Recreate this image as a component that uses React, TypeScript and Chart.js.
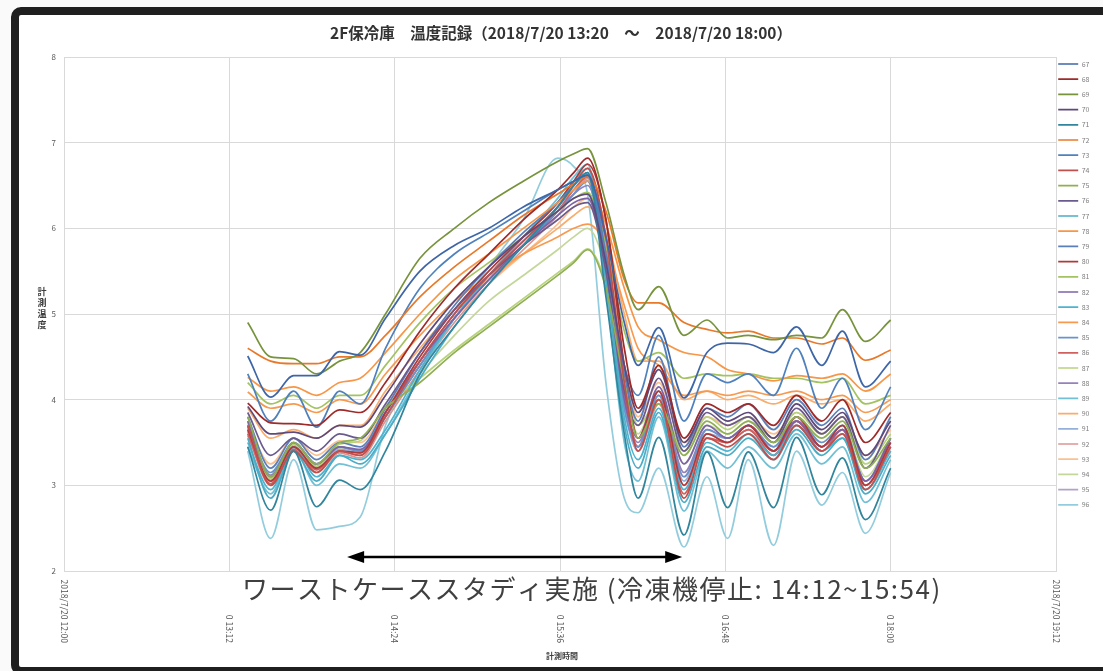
import React, { useEffect, useRef } from 'react';
import { Chart, registerables } from 'chart.js';

Chart.register(...registerables);

// ---------- text ----------
const TITLE = '2F保冷庫　温度記録（2018/7/20 13:20　～　2018/7/20 18:00）';
const Y_TITLE_CHARS = ['計', '測', '温', '度'];
const X_TITLE = '計測時間';
const NOTE_TEXT = 'ワーストケーススタディ実施 (冷凍機停止: 14:12~15:54)';

// ---------- axes (x in minutes since 12:00) ----------
const X_MIN = 0;
const X_MAX = 432;
const X_STEP = 72;
const X_TICK_LABELS = ['2018/7/20 12:00', '0 13:12', '0 14:24', '0 15:36', '0 16:48', '0 18:00', '2018/7/20 19:12'];
const Y_MIN = 2;
const Y_MAX = 8;

// annotation (data units)
const ARROW_FROM = 123.3;
const ARROW_TO = 269.2;
const ARROW_LEVEL = 2.163;
const NOTE_X = 77.5;
const NOTE_LEVEL = 1.79;

// ---------- data ----------
const TIMES = [80, 90, 100, 110, 120, 129, 140, 155, 170, 185, 200, 215, 222, 228, 236, 244, 250, 259, 270, 280, 289, 298, 309, 319, 330, 339, 349, 360];

const S67 = [4.51, 4.03, 4.28, 4.28, 4.56, 4.52, 4.95, 5.50, 5.80, 6.00, 6.25, 6.45, 6.55, 6.62, 5.90, 4.90, 4.40, 4.84, 4.02, 4.55, 4.66, 4.65, 4.55, 4.85, 4.40, 4.80, 4.15, 4.45];
const S68 = [3.96, 3.73, 3.72, 3.70, 3.88, 3.85, 4.20, 4.80, 5.30, 5.70, 6.10, 6.45, 6.65, 6.82, 6.10, 4.60, 3.90, 4.40, 3.55, 3.95, 3.85, 3.95, 3.70, 4.05, 3.75, 4.00, 3.50, 3.85];
const S69 = [4.90, 4.50, 4.48, 4.30, 4.45, 4.55, 5.00, 5.65, 6.00, 6.30, 6.55, 6.78, 6.87, 6.93, 6.30, 5.45, 5.05, 5.32, 4.75, 4.93, 4.72, 4.75, 4.70, 4.75, 4.72, 5.05, 4.68, 4.93];
const S70 = [3.92, 3.60, 3.62, 3.55, 3.70, 3.68, 4.05, 4.65, 5.15, 5.55, 5.90, 6.20, 6.35, 6.40, 5.60, 4.40, 3.85, 4.35, 3.50, 3.90, 3.75, 3.85, 3.55, 3.95, 3.65, 3.85, 3.35, 3.75];
const S71 = [3.45, 2.71, 3.40, 2.75, 3.06, 2.95, 3.40, 4.30, 4.85, 5.35, 5.80, 6.25, 6.50, 6.65, 5.20, 3.60, 2.85, 3.56, 2.42, 3.39, 2.74, 3.39, 2.74, 3.56, 2.89, 3.32, 2.60, 3.20];
const S72 = [4.60, 4.45, 4.42, 4.42, 4.50, 4.50, 4.75, 5.20, 5.55, 5.85, 6.15, 6.40, 6.52, 6.60, 6.20, 5.40, 5.13, 5.13, 4.90, 4.82, 4.78, 4.80, 4.72, 4.72, 4.65, 4.72, 4.46, 4.58];
const S73 = [4.30, 3.75, 4.10, 3.68, 4.10, 3.95, 4.60, 5.30, 5.70, 5.95, 6.20, 6.45, 6.55, 6.62, 5.60, 4.40, 4.05, 4.75, 3.75, 4.30, 4.20, 4.30, 4.05, 4.60, 3.90, 4.25, 3.65, 4.15];
const S74 = [3.70, 3.00, 3.40, 3.15, 3.40, 3.35, 3.80, 4.45, 5.00, 5.45, 5.85, 6.25, 6.50, 6.70, 5.90, 4.20, 3.40, 4.00, 2.85, 3.55, 3.45, 3.60, 3.30, 3.70, 3.40, 3.60, 2.95, 3.45];
const S75 = [3.80, 3.10, 3.50, 3.25, 3.50, 3.55, 3.90, 4.20, 4.55, 4.85, 5.15, 5.45, 5.60, 5.75, 5.30, 4.20, 3.55, 3.95, 3.35, 3.75, 3.60, 3.75, 3.50, 3.80, 3.55, 3.75, 3.20, 3.55];
const S76 = [3.85, 3.35, 3.55, 3.40, 3.60, 3.55, 3.95, 4.55, 5.05, 5.45, 5.80, 6.10, 6.25, 6.30, 5.50, 4.10, 3.70, 4.25, 3.40, 3.85, 3.70, 3.80, 3.50, 3.90, 3.60, 3.80, 3.20, 3.70];
const S77 = [3.55, 2.85, 3.40, 3.05, 3.35, 3.25, 3.60, 4.25, 4.85, 5.35, 5.80, 6.25, 6.50, 6.65, 5.40, 3.70, 3.20, 3.85, 2.80, 3.45, 3.35, 3.55, 3.30, 3.65, 3.35, 3.55, 2.90, 3.35];
const S78 = [4.26, 4.10, 4.15, 4.05, 4.20, 4.25, 4.55, 5.00, 5.40, 5.70, 6.00, 6.30, 6.45, 6.55, 6.05, 5.30, 4.85, 4.70, 4.55, 4.50, 4.35, 4.30, 4.22, 4.28, 4.25, 4.30, 4.10, 4.30];
const S79 = [3.80, 3.20, 3.55, 3.30, 3.50, 3.45, 3.90, 4.55, 5.10, 5.55, 5.95, 6.30, 6.50, 6.62, 5.70, 4.30, 3.75, 4.50, 3.45, 3.90, 3.80, 3.95, 3.65, 4.00, 3.70, 3.90, 3.30, 3.80];
const S80 = [3.65, 3.05, 3.45, 3.20, 3.40, 3.38, 3.85, 4.50, 5.05, 5.50, 5.90, 6.30, 6.55, 6.75, 6.10, 4.40, 3.55, 4.10, 3.00, 3.60, 3.50, 3.70, 3.40, 3.80, 3.45, 3.70, 3.00, 3.50];
const S81 = [4.20, 3.95, 4.05, 3.90, 4.05, 4.05, 4.40, 4.90, 5.30, 5.60, 5.90, 6.20, 6.35, 6.42, 5.80, 4.80, 4.45, 4.55, 4.25, 4.30, 4.28, 4.30, 4.25, 4.25, 4.20, 4.25, 3.95, 4.05];
const S82 = [3.75, 3.10, 3.50, 3.25, 3.45, 3.42, 3.85, 4.45, 4.95, 5.40, 5.80, 6.15, 6.30, 6.35, 5.50, 4.00, 3.55, 4.15, 3.25, 3.70, 3.55, 3.70, 3.40, 3.75, 3.45, 3.65, 3.05, 3.55];
const S83 = [3.50, 2.95, 3.45, 3.10, 3.35, 3.30, 3.65, 4.35, 4.95, 5.45, 5.90, 6.30, 6.55, 6.70, 5.50, 3.80, 3.30, 3.90, 2.95, 3.50, 3.40, 3.60, 3.35, 3.70, 3.40, 3.55, 2.95, 3.40];
const S84 = [4.09, 3.90, 3.95, 3.85, 4.00, 3.95, 4.30, 4.75, 5.15, 5.45, 5.70, 5.90, 6.00, 6.05, 5.80, 5.10, 4.60, 4.40, 4.05, 4.10, 4.05, 4.10, 4.05, 4.10, 4.00, 4.05, 3.85, 4.00];
const S85 = [3.70, 3.15, 3.50, 3.25, 3.45, 3.40, 3.80, 4.40, 4.95, 5.40, 5.80, 6.20, 6.40, 6.55, 5.40, 3.90, 3.45, 4.05, 3.10, 3.65, 3.55, 3.70, 3.45, 3.80, 3.50, 3.70, 3.05, 3.55];
const S86 = [3.60, 3.02, 3.42, 3.18, 3.40, 3.35, 3.80, 4.40, 4.95, 5.40, 5.80, 6.20, 6.45, 6.60, 5.80, 4.10, 3.45, 4.00, 2.90, 3.55, 3.50, 3.65, 3.35, 3.75, 3.40, 3.65, 3.00, 3.45];
const S87 = [3.75, 3.08, 3.48, 3.22, 3.48, 3.52, 3.92, 4.25, 4.58, 4.88, 5.18, 5.48, 5.62, 5.76, 5.35, 4.30, 3.70, 4.00, 3.40, 3.80, 3.65, 3.80, 3.55, 3.85, 3.60, 3.80, 3.25, 3.60];
const S88 = [3.68, 3.12, 3.48, 3.22, 3.45, 3.40, 3.85, 4.45, 5.00, 5.45, 5.85, 6.20, 6.40, 6.50, 5.60, 4.00, 3.50, 4.10, 3.15, 3.65, 3.55, 3.70, 3.40, 3.75, 3.45, 3.65, 3.05, 3.50];
const S89 = [3.45, 2.90, 3.42, 3.00, 3.25, 3.20, 3.60, 4.30, 4.95, 5.45, 5.90, 6.35, 6.60, 6.75, 5.30, 3.50, 3.05, 3.80, 2.70, 3.40, 3.20, 3.45, 3.20, 3.60, 3.25, 3.45, 2.80, 3.30];
const S90 = [3.90, 3.55, 3.65, 3.55, 3.70, 3.70, 4.10, 4.60, 5.05, 5.40, 5.70, 6.00, 6.15, 6.25, 5.95, 5.00, 4.45, 4.45, 4.00, 4.10, 4.00, 4.05, 3.95, 4.05, 3.95, 4.00, 3.75, 3.95];
const S91 = [3.62, 3.05, 3.45, 3.20, 3.42, 3.38, 3.80, 4.40, 4.95, 5.40, 5.80, 6.20, 6.45, 6.60, 5.50, 3.90, 3.40, 4.00, 3.05, 3.60, 3.55, 3.70, 3.45, 3.75, 3.45, 3.65, 3.00, 3.45];
const S92 = [3.58, 3.00, 3.40, 3.15, 3.38, 3.32, 3.75, 4.35, 4.90, 5.35, 5.75, 6.15, 6.40, 6.58, 5.70, 4.00, 3.40, 3.95, 3.00, 3.55, 3.50, 3.65, 3.40, 3.70, 3.40, 3.60, 2.95, 3.40];
const S93 = [3.72, 3.25, 3.55, 3.35, 3.52, 3.50, 3.90, 4.45, 4.95, 5.35, 5.70, 6.05, 6.25, 6.35, 5.80, 4.40, 3.80, 4.20, 3.50, 3.80, 3.70, 3.80, 3.60, 3.85, 3.60, 3.80, 3.35, 3.65];
const S94 = [3.66, 3.08, 3.46, 3.20, 3.44, 3.40, 3.80, 4.30, 4.75, 5.15, 5.45, 5.75, 5.90, 6.00, 5.50, 4.20, 3.60, 4.10, 3.25, 3.70, 3.60, 3.75, 3.50, 3.80, 3.50, 3.70, 3.10, 3.55];
const S95 = [3.64, 3.06, 3.44, 3.20, 3.42, 3.38, 3.85, 4.45, 5.00, 5.45, 5.85, 6.25, 6.45, 6.55, 5.60, 3.95, 3.45, 4.05, 3.10, 3.60, 3.50, 3.65, 3.40, 3.75, 3.45, 3.65, 3.00, 3.50];
const S96 = [3.40, 2.38, 3.30, 2.48, 2.52, 2.63, 3.70, 4.45, 5.00, 5.55, 6.10, 6.82, 6.72, 6.40, 4.20, 2.85, 2.68, 3.20, 2.28, 3.10, 2.38, 3.30, 2.30, 3.40, 2.77, 3.15, 2.44, 3.15];

const SERIES_NAMES = ['67', '68', '69', '70', '71', '72', '73', '74', '75', '76', '77', '78', '79', '80', '81', '82', '83', '84', '85', '86', '87', '88', '89', '90', '91', '92', '93', '94', '95', '96'];
const SERIES_VALUES = [S67, S68, S69, S70, S71, S72, S73, S74, S75, S76, S77, S78, S79, S80, S81, S82, S83, S84, S85, S86, S87, S88, S89, S90, S91, S92, S93, S94, S95, S96];
const SERIES_COLORS = [
  '#3E66A6', '#9E2A2A', '#77933C', '#5F497A', '#31859C', '#E8792A',
  '#4F81BD', '#C0504D', '#8FAF52', '#6B5A8E', '#4BACC6', '#F79646',
  '#5B7FB8', '#B03A3A', '#A3C361', '#7D63A6', '#4DB3CF', '#F79A50',
  '#6A93CC', '#D0605E', '#B8D27D', '#9682B8', '#71C0D6', '#F9AC6C',
  '#95B0D8', '#DB9593', '#FAC090', '#C4D79B', '#B3A2C7', '#93CDDD',
];

const FONT = "'Noto Sans CJK JP', 'Noto Sans', sans-serif";

const decorPlugin = {
  id: 'decor',
  afterLayout(chart: any) {
    const lg = chart.legend;
    if (lg) {
      lg.left -= 6;
      lg.top -= 4.7;
    }
  },
  afterDraw(chart: any) {
    const { ctx, chartArea, scales } = chart;
    const xs = scales.x;
    const ys = scales.y;
    ctx.save();

    // rotated x tick labels (reading top to bottom, bottom-aligned)
    ctx.font = `8.6px ${FONT}`;
    ctx.fillStyle = '#555555';
    ctx.textAlign = 'right';
    ctx.textBaseline = 'middle';
    xs.ticks.forEach((t: any, i: number) => {
      const px = xs.getPixelForValue(t.value);
      ctx.save();
      ctx.translate(px, chartArea.bottom + 72);
      ctx.rotate(Math.PI / 2);
      ctx.fillText(X_TICK_LABELS[i] ?? '', 0, 0);
      ctx.restore();
    });

    // x axis title
    ctx.font = `bold 8px ${FONT}`;
    ctx.fillStyle = '#404040';
    ctx.textAlign = 'center';
    ctx.fillText(X_TITLE, (chartArea.left + chartArea.right) / 2 + 2, chartArea.bottom + 85);

    // y axis title, stacked characters
    ctx.font = `bold 9px ${FONT}`;
    const cy = (chartArea.top + chartArea.bottom) / 2 - 6;
    Y_TITLE_CHARS.forEach((c, i) => {
      ctx.fillText(c, 23, cy + (i - 1.5) * 11);
    });

    // double-headed arrow
    const x1 = xs.getPixelForValue(ARROW_FROM);
    const x2 = xs.getPixelForValue(ARROW_TO);
    const ay = ys.getPixelForValue(ARROW_LEVEL);
    const head = 17;
    const hw = 6;
    ctx.strokeStyle = '#000';
    ctx.fillStyle = '#000';
    ctx.lineWidth = 2.6;
    ctx.beginPath();
    ctx.moveTo(x1 + head - 2, ay);
    ctx.lineTo(x2 - head + 2, ay);
    ctx.stroke();
    ctx.beginPath();
    ctx.moveTo(x1, ay);
    ctx.lineTo(x1 + head, ay - hw);
    ctx.lineTo(x1 + head, ay + hw);
    ctx.closePath();
    ctx.fill();
    ctx.beginPath();
    ctx.moveTo(x2, ay);
    ctx.lineTo(x2 - head, ay - hw);
    ctx.lineTo(x2 - head, ay + hw);
    ctx.closePath();
    ctx.fill();

    // annotation text
    ctx.font = `26px ${FONT}`;
    ctx.fillStyle = '#404040';
    ctx.textAlign = 'left';
    ctx.textBaseline = 'middle';
    (ctx as any).letterSpacing = '1.5px';
    ctx.fillText(NOTE_TEXT, xs.getPixelForValue(NOTE_X), ys.getPixelForValue(NOTE_LEVEL));
    (ctx as any).letterSpacing = '0px';

    ctx.restore();
  },
};

export default function App() {
  const ref = useRef<HTMLCanvasElement>(null);

  useEffect(() => {
    if (!ref.current) return;
    Chart.defaults.font.family = FONT;
    const datasets = SERIES_NAMES.map((name, i) => ({
      label: name,
      data: TIMES.map((t, j) => ({ x: t, y: SERIES_VALUES[i][j] })),
      borderColor: SERIES_COLORS[i],
      backgroundColor: SERIES_COLORS[i],
      borderWidth: 1.7,
      pointRadius: 0,
      pointHoverRadius: 0,
      fill: false,
      cubicInterpolationMode: 'monotone' as const,
    }));

    const chart = new Chart(ref.current, {
      type: 'line',
      data: { datasets },
      options: {
        animation: false,
        responsive: true,
        maintainAspectRatio: false,
        layout: { padding: 0 },
        plugins: {
          title: {
            display: true,
            text: TITLE,
            color: '#333333',
            font: { size: 15.5, weight: 'bold', family: FONT, lineHeight: 1.1 },
            padding: { top: 10, bottom: 14.95 },
          },
          legend: {
            display: true,
            position: 'right',
            align: 'start',
            fullSize: false,
            maxWidth: 47,
            labels: {
              usePointStyle: true,
              pointStyle: 'line',
              pointStyleWidth: 20,
              boxWidth: 20,
              font: { size: 7, family: FONT },
              color: '#808080',
              padding: 8.2,
            },
          },
          tooltip: { enabled: false },
        },
        scales: {
          x: {
            type: 'linear',
            min: X_MIN,
            max: X_MAX,
            ticks: { stepSize: X_STEP, display: false },
            grid: { color: '#d9d9d9', drawTicks: false, lineWidth: 1 },
            border: { color: '#d9d9d9' },
            afterFit: (scale: any) => {
              scale.height = 96;
            },
          },
          y: {
            type: 'linear',
            min: Y_MIN,
            max: Y_MAX,
            ticks: { stepSize: 1, color: '#595959', font: { size: 8, family: FONT }, padding: 8 },
            grid: { color: '#d9d9d9', drawTicks: false, lineWidth: 1 },
            border: { color: '#d9d9d9' },
            afterFit: (scale: any) => {
              scale.width = 45;
            },
          },
        },
      },
      plugins: [decorPlugin],
    } as any);

    return () => chart.destroy();
  }, []);

  return (
    <div style={{ position: 'fixed', left: 0, top: 0, width: 1103, height: 671, overflow: 'hidden', background: '#fafafa' }}>
      <div
        style={{
          position: 'absolute',
          left: 11,
          top: 7,
          width: 1200,
          height: 668,
          border: '8px solid #1f1f1f',
          borderRadius: 10,
          boxSizing: 'border-box',
          background: '#ffffff',
        }}
      />
      <div style={{ position: 'absolute', left: 19, top: 15, width: 1084, height: 652 }}>
        <canvas ref={ref} />
      </div>
    </div>
  );
}
